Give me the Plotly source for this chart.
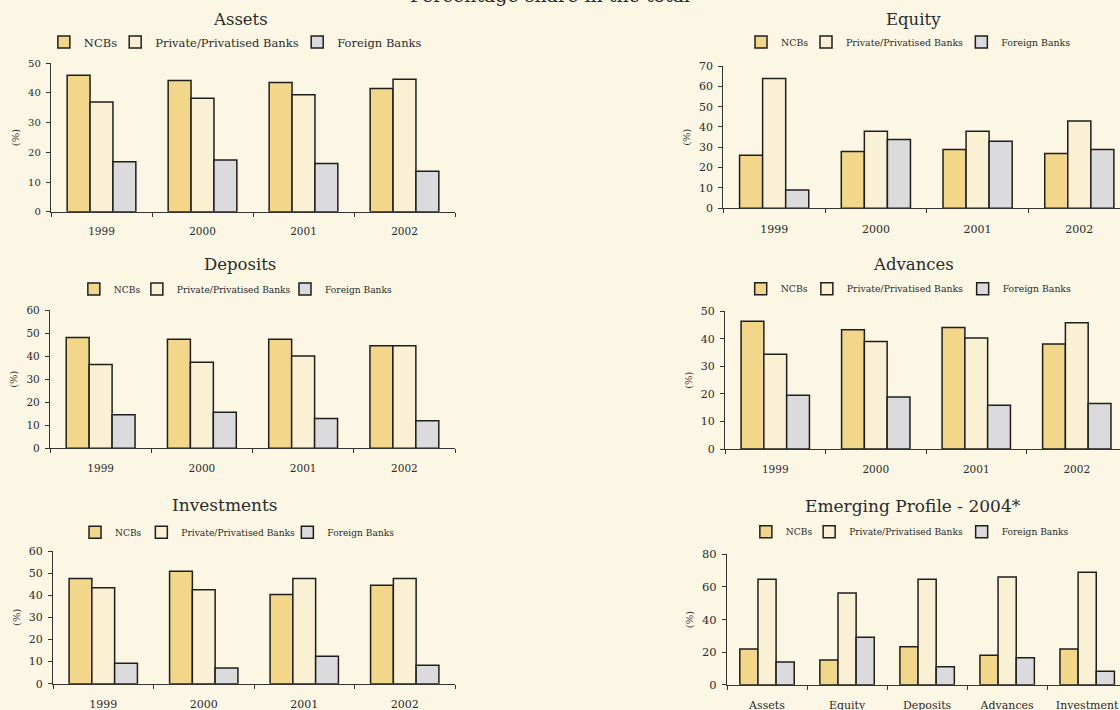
import plotly.graph_objects as go

W, H = 1120, 710

# ---------------- data ----------------
years = ["1999", "2000", "2001", "2002"]
profile_cats = ["Assets", "Equity", "Deposits", "Advances", "Investment"]
series_names = ["NCBs", "Private/Privatised Banks", "Foreign Banks"]

assets_ncb = [46.0, 44.2, 43.5, 41.5]
assets_private = [37.0, 38.2, 39.4, 44.6]
assets_foreign = [16.8, 17.4, 16.2, 13.6]

equity_ncb = [26.1, 28.0, 28.9, 26.9]
equity_private = [63.8, 37.9, 37.9, 43.0]
equity_foreign = [9.0, 33.9, 33.0, 28.9]

deposits_ncb = [48.1, 47.3, 47.3, 44.5]
deposits_private = [36.4, 37.3, 40.0, 44.5]
deposits_foreign = [14.6, 15.6, 12.9, 11.9]

advances_ncb = [46.4, 43.3, 44.1, 38.1]
advances_private = [34.4, 39.0, 40.3, 45.8]
advances_foreign = [19.5, 18.9, 15.9, 16.5]

investments_ncb = [47.6, 50.8, 40.3, 44.5]
investments_private = [43.4, 42.5, 47.6, 47.6]
investments_foreign = [9.2, 7.1, 12.4, 8.3]

profile_ncb = [21.9, 15.1, 23.3, 18.0, 21.9]
profile_private = [64.7, 56.3, 64.7, 66.1, 69.0]
profile_foreign = [13.9, 29.1, 11.0, 16.6, 8.2]

main_title = "Percentage share in the total"
y_title = "(%)"

# ---------------- styling ----------------
BG = "#FCF6E4"
COLORS = ["#F2D78B", "#FAF0D3", "#DBDBDD"]
EDGE = "#1E1E1E"
TXT = "#2B2B2B"
FONT = "DejaVu Serif"

def fx(px):
    return px / W

def fy(py):
    return 1 - py / H

panels = [
    dict(title="Assets", cats=years, vals=(assets_ncb, assets_private, assets_foreign),
         x0=51, x1=455, y0=63.3, y1=211.7, ymax=50, dtick=10, xmax=3.5,
         tcx=240.7, tcy=19.5, tfs=16.5, lgx=43.85, lgy=42, lgfs=11.5, lgw=[26.35, 137, None],
         tickfs=10, catfs=10.5),
    dict(title="Equity", cats=years, vals=(equity_ncb, equity_private, equity_foreign),
         x0=723.3, x1=1120, y0=66, y1=208.3, ymax=70, dtick=10, xmax=3.4,
         tcx=913, tcy=20, tfs=16.5, lgx=741, lgy=42, lgfs=9.4, lgw=[20, 110.35, None],
         tickfs=11, catfs=11),
    dict(title="Deposits", cats=years, vals=(deposits_ncb, deposits_private, deposits_foreign),
         x0=50, x1=455, y0=310, y1=448.3, ymax=60, dtick=10, xmax=3.5,
         tcx=240.3, tcy=264.5, tfs=16.5, lgx=73.85, lgy=289, lgfs=9.1, lgw=[18, 103.15, None],
         tickfs=10.5, catfs=10.5),
    dict(title="Advances", cats=years, vals=(advances_ncb, advances_private, advances_foreign),
         x0=725, x1=1120, y0=311.3, y1=449, ymax=50, dtick=10, xmax=3.43,
         tcx=913, tcy=264.5, tfs=16.5, lgx=740.7, lgy=288.7, lgfs=9.3, lgw=[21.15, 110.8, None],
         tickfs=11, catfs=10.5),
    dict(title="Investments", cats=years, vals=(investments_ncb, investments_private, investments_foreign),
         x0=53, x1=455, y0=551, y1=683.7, ymax=60, dtick=10, xmax=3.5,
         tcx=225, tcy=505, tfs=17, lgx=75, lgy=532.3, lgfs=9.1, lgw=[21.35, 101, None],
         tickfs=11, catfs=11),
    dict(title="Emerging Profile - 2004*", cats=profile_cats, vals=(profile_ncb, profile_private, profile_foreign),
         x0=727, x1=1120, y0=554.3, y1=684.7, ymax=80, dtick=20, xmax=4.41,
         tcx=913, tcy=505.5, tfs=17, lgx=745.85, lgy=531.7, lgfs=9.1, lgw=[18.3, 107.5, None],
         tickfs=11.5, catfs=11),
]

fig = go.Figure()
layout = dict(
    template="none",
    width=W, height=H,
    margin=dict(l=0, r=0, t=0, b=0, autoexpand=False),
    paper_bgcolor=BG, plot_bgcolor=BG,
    barmode="group", bargap=0.32, bargroupgap=0,
    font=dict(family=FONT, color=TXT),
    showlegend=True,
)
annotations = [dict(text=main_title, x=fx(550), y=1, xref="paper", yref="paper",
                    xanchor="center", yanchor="middle", yshift=5, showarrow=False,
                    font=dict(family=FONT, size=19, color=TXT))]

for i, p in enumerate(panels):
    n = i + 1
    xa = "x" if n == 1 else f"x{n}"
    ya = "y" if n == 1 else f"y{n}"
    lg = "legend" if n == 1 else f"legend{n}"
    for k, (name, vals) in enumerate(zip(series_names, p["vals"])):
        tr = dict(x=p["cats"], y=vals, name=name, xaxis=xa, yaxis=ya,
                  marker=dict(color=COLORS[k], line=dict(color=EDGE, width=1.5)),
                  legend=lg, hoverinfo="x+y+name")
        if p["lgw"][k] is not None:
            tr["legendwidth"] = p["lgw"][k]
        fig.add_trace(go.Bar(**tr))

    axis_line = dict(showline=True, linecolor="#333333", linewidth=1.3,
                     ticks="outside", ticklen=4, tickcolor="#333333", tickwidth=1.2,
                     showgrid=False, zeroline=False, fixedrange=True, automargin=False)
    layout["xaxis" if n == 1 else f"xaxis{n}"] = dict(
        domain=[fx(p["x0"]), fx(p["x1"])], anchor=ya, type="category",
        range=[-0.5, p["xmax"]], tickson="boundaries",
        tickfont=dict(family=FONT, size=p["catfs"], color=TXT),
        ticklabelstandoff=10, **axis_line)
    layout["yaxis" if n == 1 else f"yaxis{n}"] = dict(
        domain=[fy(p["y1"]), fy(p["y0"])], anchor=xa,
        range=[0, p["ymax"]], dtick=p["dtick"], tick0=0,
        tickfont=dict(family=FONT, size=p["tickfs"], color=TXT),
        ticklabelstandoff=3,
        title=dict(text=y_title, font=dict(family=FONT, size=10, color=TXT), standoff=6),
        **axis_line)
    layout[lg] = dict(orientation="h", x=fx(p["lgx"]), xanchor="left",
                      y=fy(p["lgy"]), yanchor="middle",
                      bgcolor="rgba(0,0,0,0)", borderwidth=0,
                      font=dict(family=FONT, size=p["lgfs"], color=TXT),
                      traceorder="normal")
    annotations.append(dict(text=p["title"], x=fx(p["tcx"]), y=fy(p["tcy"]),
                            xref="paper", yref="paper", xanchor="center", yanchor="middle",
                            showarrow=False, font=dict(family=FONT, size=p["tfs"], color=TXT)))

layout["annotations"] = annotations
fig.update_layout(**layout)
fig.write_html("out.html")
